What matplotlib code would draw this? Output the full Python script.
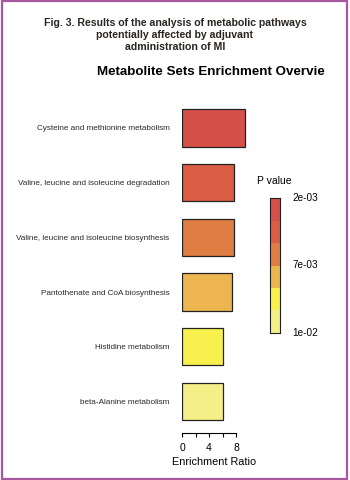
import matplotlib
matplotlib.use('Agg')
import matplotlib.pyplot as plt
from matplotlib.patches import Rectangle
from matplotlib.transforms import Bbox

pathways = ['Cysteine and methionine metabolism',
            'Valine, leucine and isoleucine degradation',
            'Valine, leucine and isoleucine biosynthesis',
            'Pantothenate and CoA biosynthesis',
            'Histidine metabolism',
            'beta-Alanine metabolism']
enrichment = [9.4, 7.7, 7.7, 7.45, 6.1, 6.1]
p_values = [0.0020, 0.0035, 0.0050, 0.0068, 0.0085, 0.0100]
palette = ['#D6504A', '#DB5D43', '#E07D43', '#EDB54F', '#F8F04D', '#F5EF87']
cbar_labels = ['2e-03', '7e-03', '1e-02']
xticks = [0, 2, 4, 6, 8]

p_min, p_max = 0.002, 0.01
def p_color(p):
    i = int((p - p_min) / (p_max - p_min) * len(palette))
    return palette[min(i, len(palette) - 1)]

plt.rcParams['font.family'] = ['Liberation Sans', 'DejaVu Sans']
fig = plt.figure(figsize=(3.5, 4.8), dpi=100)

# main bar panel
ax = fig.add_axes([182/350, 47/480, 75/350, 333/480])
n = len(pathways)
ypos = [n - 1 - i for i in range(n)]
ax.barh(ypos, enrichment, height=0.68, color=[p_color(p) for p in p_values],
        edgecolor='#222222', linewidth=0.9)
ax.set_xlim(0, 75/6.75)
ax.set_ylim(-0.576, 5.51)
for s in ['top', 'right', 'left']:
    ax.spines[s].set_visible(False)
ax.spines['bottom'].set_bounds(0, 8)
ax.spines['bottom'].set_linewidth(0.8)
ax.set_xticks(xticks)
ax.set_xticklabels(['0', '', '4', '', '8'], fontsize=7.5)
ax.tick_params(axis='x', length=3, width=0.8, pad=4)
ax.set_yticks(ypos)
ax.set_yticklabels(pathways, fontsize=5.9, color='#2a2a2a')
ax.tick_params(axis='y', length=0, pad=9)
ax.set_xlabel('Enrichment Ratio', fontsize=7.8, labelpad=3, x=32/75)

# colour key
cax = fig.add_axes([269.5/350, 147.3/480, 10.5/350, 134.4/480])
for i, c in enumerate(palette):
    cax.bar(0, 1, bottom=len(palette) - 1 - i, width=1, color=c, linewidth=0)
cax.set_xlim(-0.5, 0.5)
cax.set_ylim(0, len(palette))
for s in cax.spines.values():
    s.set_linewidth(0.8)
    s.set_color('#222222')
cax.set_xticks([])
cax.set_yticks([])
for lab, yy in zip(cbar_labels, [len(palette), len(palette) / 2, 0]):
    cax.text(1.7, yy, lab, fontsize=7.2, va='center', ha='left', transform=cax.transData)
fig.text(257/350, 1 - 181/480, 'P value', fontsize=7.5, va='center', ha='left')

# titles
fig.text(175/350, 1 - 35.5/480,
         'Fig. 3. Results of the analysis of metabolic pathways\npotentially affected by adjuvant\nadministration of MI',
         ha='center', va='center', fontsize=7.6, fontweight='bold', color='#2a2520',
         linespacing=1.25)
t = fig.text(97/350, 1 - 72/480, 'Metabolite Sets Enrichment Overview',
             ha='left', va='center', fontsize=9.6, fontweight='bold')
t.set_clip_on(True)
t.set_clip_box(Bbox.from_extents(0, 0, 325, 480))

# frame
fig.patches.append(Rectangle((1.5/350, 1/480), 345/350, 478/480, transform=fig.transFigure,
                             fill=False, edgecolor='#A8569E', linewidth=1.6))

fig.savefig('out.png', dpi=100)
